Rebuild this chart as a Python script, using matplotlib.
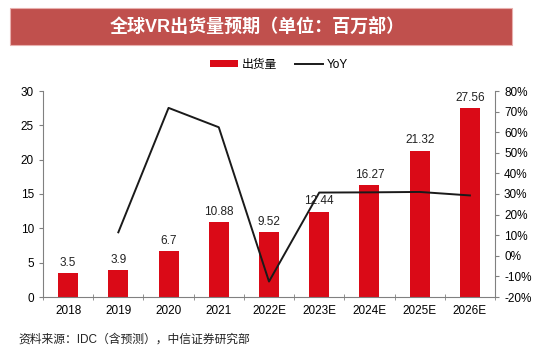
import matplotlib
matplotlib.use("Agg")
import matplotlib.pyplot as plt
from matplotlib.patches import Rectangle, Patch
from matplotlib.lines import Line2D
from matplotlib.ticker import FuncFormatter, FixedLocator

plt.rcParams['font.family'] = ['Liberation Sans', 'Noto Sans CJK SC', 'DejaVu Sans']

# 数据
years = ['2018', '2019', '2020', '2021', '2022E', '2023E', '2024E', '2025E', '2026E']
shipments = [3.5, 3.9, 6.7, 10.88, 9.52, 12.44, 16.27, 21.32, 27.56]
shipment_labels = ['3.5', '3.9', '6.7', '10.88', '9.52', '12.44', '16.27', '21.32', '27.56']
yoy_years = years[1:]
yoy = [0.114, 0.718, 0.624, -0.125, 0.307, 0.308, 0.310, 0.293]

bar_color = '#DA0A17'
banner_color = '#C0504D'

fig = plt.figure(figsize=(5.54, 3.52), dpi=100)

# 标题横幅
fig.patches.append(Rectangle((10 / 554, 1 - 45 / 352), 502 / 554, 37 / 352,
                             transform=fig.transFigure, facecolor=banner_color,
                             edgecolor='#E8B0AE', linewidth=0.8))
fig.text(257 / 554, 1 - 27 / 352, '全球VR出货量预期（单位：百万部）', color='white',
         fontsize=13, fontweight='bold', ha='center', va='center')

ax = fig.add_axes([43 / 554, 1 - 297 / 352, 452 / 554, 206 / 352])
x = list(range(len(years)))
ax.bar(x, shipments, width=0.4, color=bar_color, zorder=2)
for xi, v, lab in zip(x, shipments, shipment_labels):
    ax.text(xi, v + 0.6, lab, ha='center', va='bottom', fontsize=8.5, color='#222222', zorder=4)

ax.set_xlim(-0.5, len(years) - 0.5)
ax.set_ylim(0, 30)
ax.set_yticks(range(0, 31, 5))
ax.set_xticks(x)
ax.set_xticklabels(years)
ax.xaxis.set_minor_locator(FixedLocator([i + 0.5 for i in range(-1, len(years))]))
ax.tick_params(axis='x', which='major', length=0, pad=6, labelsize=8.5)
ax.tick_params(axis='x', which='minor', length=4, direction='inout', color='#808080')
ax.tick_params(axis='y', length=3, direction='out', color='#808080', labelsize=8.5)
for s in ['top', 'right']:
    ax.spines[s].set_visible(False)
ax.spines['left'].set_color('#808080')
ax.spines['bottom'].set_color('#808080')

ax2 = ax.twinx()
ax2.plot([years.index(y) for y in yoy_years], yoy, color='#1a1a1a', linewidth=1.4, zorder=3)
ax2.set_ylim(-0.2, 0.8)
ax2.set_yticks([i / 10 for i in range(-2, 9)])
ax2.yaxis.set_major_formatter(FuncFormatter(lambda v, p: f'{v * 100:.0f}%'))
ax2.tick_params(axis='y', length=3, direction='out', color='#808080', labelsize=8.5)
for s in ['top', 'left', 'bottom']:
    ax2.spines[s].set_visible(False)
ax2.spines['right'].set_color('#808080')

# 图例
handles = [Patch(facecolor=bar_color, label='出货量'),
           Line2D([0], [0], color='#1a1a1a', linewidth=1.4, label='YoY')]
fig.legend(handles=handles, loc='center', bbox_to_anchor=(279 / 554, 1 - 65 / 352), ncol=2,
           frameon=False, fontsize=8.5, handlelength=2.4, handleheight=0.5,
           columnspacing=1.5, handletextpad=0.3)

fig.text(18 / 554, 1 - 340 / 352, '资料来源：IDC（含预测），中信证券研究部', fontsize=8.5,
         color='#222222', ha='left', va='center')

fig.savefig('out.png', dpi=100)
